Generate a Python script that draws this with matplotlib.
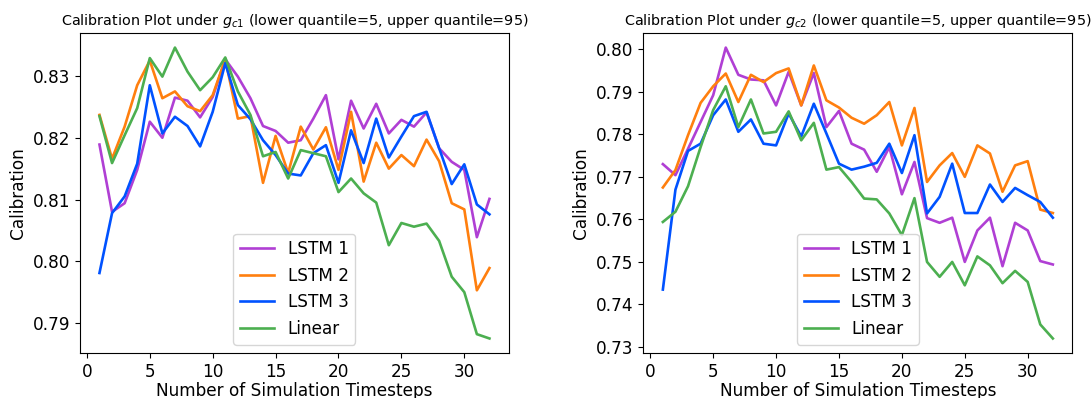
import matplotlib
matplotlib.use("Agg")
import matplotlib.pyplot as plt

# timesteps 1..32
steps = list(range(1, 33))
labels = ["LSTM 1", "LSTM 2", "LSTM 3", "Linear"]
colors = ["#b03fd4", "#ff7f0e", "#0052ff", "#4caf50"]

# calibration under g_c1
c1_lstm1 = [0.8189, 0.8080, 0.8094, 0.8148, 0.8226, 0.8200, 0.8265, 0.8260,
            0.8233, 0.8266, 0.8327, 0.8299, 0.8264, 0.8219, 0.8211, 0.8192,
            0.8196, 0.8231, 0.8269, 0.8165, 0.8260, 0.8215, 0.8255, 0.8207,
            0.8229, 0.8218, 0.8241, 0.8183, 0.8161, 0.8148, 0.8039, 0.8101]
c1_lstm2 = [0.8237, 0.8166, 0.8218, 0.8285, 0.8325, 0.8264, 0.8275, 0.8251,
            0.8243, 0.8269, 0.8327, 0.8231, 0.8235, 0.8127, 0.8203, 0.8143,
            0.8218, 0.8181, 0.8217, 0.8148, 0.8242, 0.8129, 0.8192, 0.8150,
            0.8172, 0.8154, 0.8197, 0.8162, 0.8094, 0.8084, 0.7953, 0.7989]
c1_lstm3 = [0.7981, 0.8078, 0.8105, 0.8158, 0.8285, 0.8207, 0.8234, 0.8219,
            0.8186, 0.8242, 0.8321, 0.8253, 0.8230, 0.8196, 0.8172, 0.8142,
            0.8139, 0.8175, 0.8188, 0.8127, 0.8212, 0.8159, 0.8231, 0.8168,
            0.8202, 0.8235, 0.8242, 0.8183, 0.8125, 0.8157, 0.8092, 0.8076]
c1_linear = [0.8235, 0.8159, 0.8204, 0.8248, 0.8329, 0.8299, 0.8346, 0.8307,
             0.8277, 0.8298, 0.8330, 0.8275, 0.8237, 0.8170, 0.8177, 0.8134,
             0.8180, 0.8175, 0.8170, 0.8112, 0.8134, 0.8110, 0.8095, 0.8026,
             0.8062, 0.8056, 0.8061, 0.8033, 0.7975, 0.7950, 0.7882, 0.7875]

# calibration under g_c2
c2_lstm1 = [0.7730, 0.7704, 0.7766, 0.7829, 0.7892, 0.8004, 0.7940, 0.7929,
            0.7927, 0.7868, 0.7947, 0.7868, 0.7944, 0.7817, 0.7855, 0.7778,
            0.7764, 0.7712, 0.7770, 0.7659, 0.7735, 0.7603, 0.7592, 0.7604,
            0.7500, 0.7574, 0.7604, 0.7490, 0.7592, 0.7574, 0.7502, 0.7494]
c2_lstm2 = [0.7675, 0.7716, 0.7798, 0.7874, 0.7913, 0.7943, 0.7876, 0.7940,
            0.7923, 0.7944, 0.7955, 0.7868, 0.7962, 0.7880, 0.7863, 0.7839,
            0.7825, 0.7845, 0.7876, 0.7774, 0.7862, 0.7688, 0.7727, 0.7756,
            0.7700, 0.7774, 0.7755, 0.7665, 0.7727, 0.7737, 0.7623, 0.7615]
c2_lstm3 = [0.7435, 0.7670, 0.7761, 0.7778, 0.7845, 0.7882, 0.7806, 0.7835,
            0.7778, 0.7774, 0.7849, 0.7795, 0.7872, 0.7802, 0.7731, 0.7717,
            0.7724, 0.7733, 0.7778, 0.7709, 0.7798, 0.7614, 0.7653, 0.7731,
            0.7615, 0.7615, 0.7682, 0.7641, 0.7674, 0.7657, 0.7641, 0.7604]
c2_linear = [0.7594, 0.7618, 0.7678, 0.7770, 0.7857, 0.7913, 0.7817, 0.7882,
             0.7802, 0.7806, 0.7854, 0.7786, 0.7827, 0.7717, 0.7723, 0.7688,
             0.7649, 0.7647, 0.7614, 0.7563, 0.7650, 0.7500, 0.7465, 0.7500,
             0.7445, 0.7513, 0.7492, 0.7450, 0.7479, 0.7453, 0.7353, 0.7320]

panels = [
    (r"Calibration Plot under $g_{c1}$ (lower quantile=5, upper quantile=95)",
     [c1_lstm1, c1_lstm2, c1_lstm3, c1_linear]),
    (r"Calibration Plot under $g_{c2}$ (lower quantile=5, upper quantile=95)",
     [c2_lstm1, c2_lstm2, c2_lstm3, c2_linear]),
]

fig = plt.figure(figsize=(10.91, 3.98), dpi=100)
lefts = [0.0733, 0.5897]

for left, (title, series) in zip(lefts, panels):
    ax = fig.add_axes([left, 0.113, 0.3932, 0.804])
    for vals, lab, col in zip(series, labels, colors):
        ax.plot(steps, vals, color=col, label=lab, linewidth=1.9)
    ax.set_title(title, fontsize=10.4)
    ax.set_xlabel("Number of Simulation Timesteps", fontsize=12.2, labelpad=1)
    ax.set_ylabel("Calibration", fontsize=12.2)
    ax.set_xticks([0, 5, 10, 15, 20, 25, 30])
    ax.tick_params(labelsize=12.2)
    ax.legend(loc="lower center", fontsize=12.2)

plt.savefig("out.png", dpi=100)
